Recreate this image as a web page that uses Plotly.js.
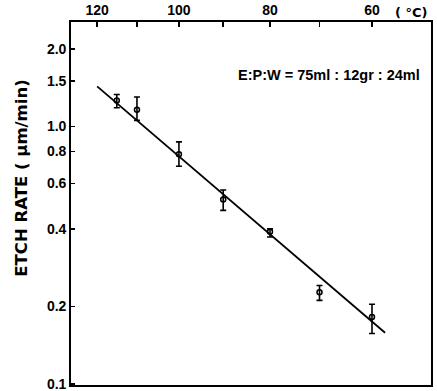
<!DOCTYPE html>
<html>
<head>
<meta charset="utf-8">
<script src="https://cdn.plot.ly/plotly-3.0.1.min.js"></script>
<style>html,body{margin:0;padding:0;background:#fff;}#chart{width:437px;height:391px;}</style>
</head>
<body>
<div id="chart"></div>
<script>
// Data (temperature in °C, etch rate in µm/min)
const tempC   = [115, 110, 100, 90, 80, 70, 60];
const rate    = [1.26, 1.16, 0.78, 0.52, 0.39, 0.227, 0.182];
const rateHi  = [1.33, 1.30, 0.87, 0.566, 0.40, 0.241, 0.204];
const rateLo  = [1.18, 1.055, 0.70, 0.472, 0.372, 0.211, 0.157];
// Fitted line end points
const lineTempC = [120, 57.6];
const lineRate  = [1.43, 0.158];
// Axis ticks
const topTickTempC  = [120, 110, 100, 90, 80, 70, 60];
const topTickLabels = ["120", "", "100", "", "80", "", "60"];
const yTickVals   = [0.1, 0.2, 0.4, 0.6, 0.8, 1.0, 1.5, 2.0];
const yTickLabels = ["0.1", "0.2", "0.4", "0.6", "0.8", "1.0", "1.5", "2.0"];

const invT = t => 1000 / (t + 273.15);

const fam = "Liberation Sans, Arial, sans-serif";
const wide = "DejaVu Sans, Liberation Sans, sans-serif";
const font = {family: fam, size: 14, color: "#000", weight: "bold"};

const points = {
  x: tempC.map(invT),
  y: rate,
  type: "scatter",
  mode: "markers",
  marker: {symbol: "circle-open", size: 5, color: "#000", line: {width: 1.5, color: "#000"}},
  error_y: {
    type: "data", symmetric: false,
    array: rateHi.map((v, i) => v - rate[i]),
    arrayminus: rate.map((v, i) => v - rateLo[i]),
    color: "#000", thickness: 1.6, width: 3
  },
  showlegend: false, hoverinfo: "skip"
};

const fit = {
  x: lineTempC.map(invT),
  y: lineRate,
  type: "scatter",
  mode: "lines",
  line: {color: "#000", width: 1.8},
  showlegend: false, hoverinfo: "skip"
};

const layout = {
  width: 437, height: 391,
  margin: {l: 71, r: 6, t: 22, b: 6},
  paper_bgcolor: "#fff", plot_bgcolor: "#fff",
  font: font,
  xaxis: {
    side: "top", range: [2.5, 3.1],
    tickmode: "array", tickvals: topTickTempC.map(invT), ticktext: topTickLabels,
    ticks: "inside", ticklen: 5, tickwidth: 1.5, tickcolor: "#000",
    showline: true, linewidth: 1.8, linecolor: "#000", mirror: true,
    showgrid: false, zeroline: false, tickfont: font, automargin: false,
    ticklabeloverflow: "allow"
  },
  yaxis: {
    type: "log", range: [-1.004, 0.405],
    tickmode: "array", tickvals: yTickVals, ticktext: yTickLabels,
    ticks: "inside", ticklen: 4, tickwidth: 1.5, tickcolor: "#000",
    showline: true, linewidth: 1.8, linecolor: "#000", mirror: true,
    showgrid: false, zeroline: false, tickfont: font, automargin: false,
    ticklabeloverflow: "allow"
  },
  annotations: [
    {text: "ETCH RATE ( μm/min)", xref: "paper", yref: "paper", x: -0.14, y: 0.57, textangle: -90,
     xanchor: "center", yanchor: "middle", showarrow: false, font: {family: wide, size: 16.5, color: "#000", weight: "bold"}},
    {text: "( °C)", xref: "paper", yref: "paper", x: 0.995, y: 1.0, xanchor: "right", yanchor: "bottom", yshift: 0, showarrow: false, font: {family: wide, size: 13, color: "#000", weight: "bold"}},
    {text: "E:P:W = 75ml : 12gr : 24ml", xref: "paper", yref: "paper", x: 0.975, y: 0.855, xanchor: "right", yanchor: "middle", showarrow: false, font: {family: fam, size: 14.5, color: "#000", weight: "bold"}}
  ]
};

Plotly.newPlot("chart", [fit, points], layout, {displayModeBar: false, staticPlot: true});
</script>
</body>
</html>
